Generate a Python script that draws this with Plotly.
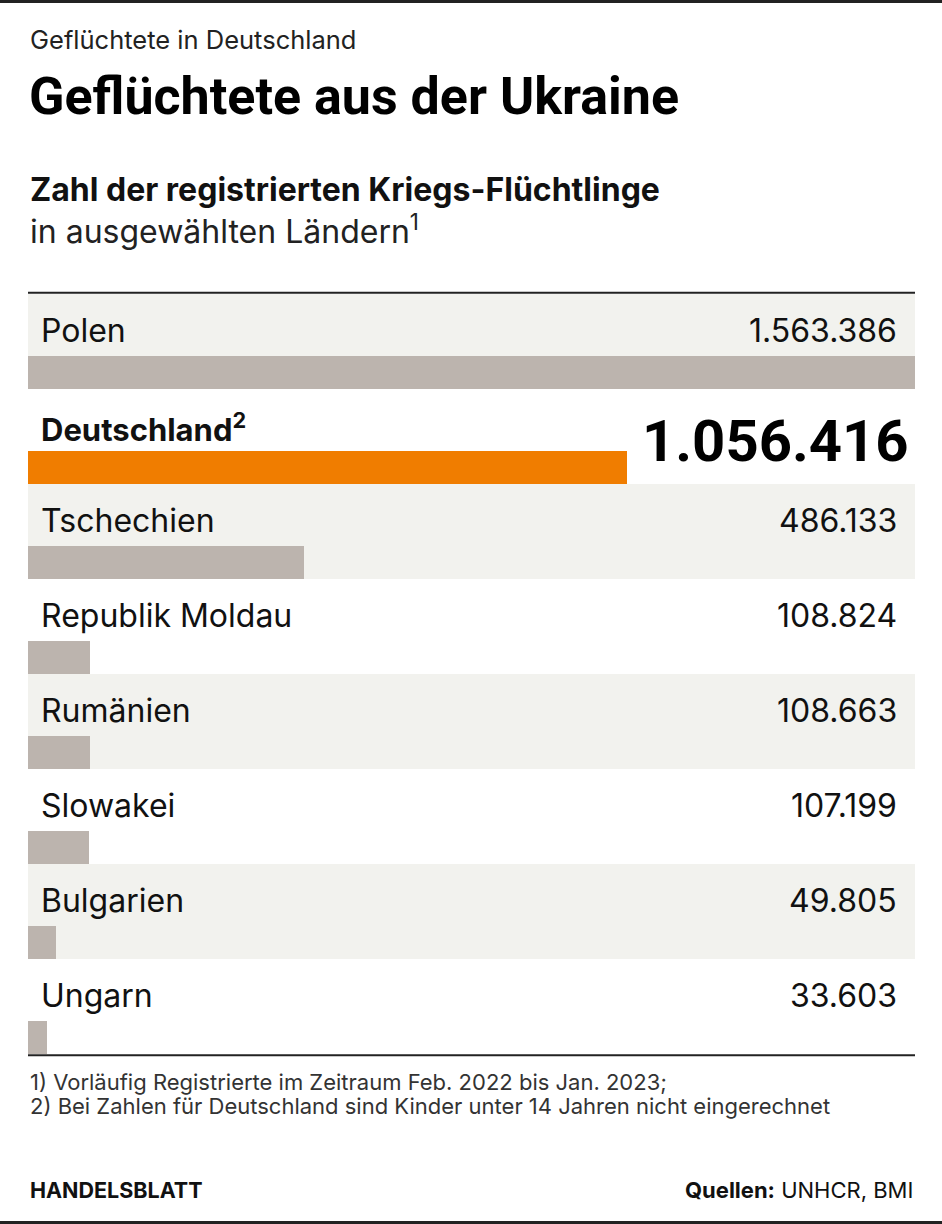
import plotly.graph_objects as go

countries = ["Polen", "Deutschland", "Tschechien", "Republik Moldau", "Rumänien",
             "Slowakei", "Bulgarien", "Ungarn"]
values = [1563386, 1056416, 486133, 108824, 108663, 107199, 49805, 33603]
value_labels = ["1.563.386", "1.056.416", "486.133", "108.824", "108.663",
                "107.199", "49.805", "33.603"]
highlight = "Deutschland"

W, H = 942, 1224
L, R, T, B = 28, 27, 294, 170
plot_h = H - T - B
plot_w = W - L - R

def px(x):
    return (x - L) / plot_w

def py(y):
    return (H - B - y) / plot_h

GRAY_BAR = "#bcb4ae"
ORANGE = "#f07d00"
ROW_BG = "#f2f2ee"
INK = "#111111"
FONT = "Inter, Roboto, sans-serif"
HEAVY = "Roboto, sans-serif"

n = len(countries)
bw = 33 / 95
bar_y = [i + 1 - bw / 2 for i in range(n)]
colors = [ORANGE if c == highlight else GRAY_BAR for c in countries]

fig = go.Figure()
fig.add_trace(go.Bar(
    x=values, y=bar_y, width=bw, orientation="h",
    marker=dict(color=colors, line=dict(width=0)),
    hoverinfo="skip", showlegend=False,
))

shapes = []
for i in range(n):
    if i % 2 == 0:
        shapes.append(dict(type="rect", xref="paper", yref="y", x0=0, x1=1,
                           y0=i, y1=i + 1, fillcolor=ROW_BG, line=dict(width=0),
                           layer="below"))
shapes.append(dict(type="line", xref="paper", yref="paper", x0=0, x1=1, y0=1.0015, y1=1.0015,
                   line=dict(color="#222", width=2)))
shapes.append(dict(type="line", xref="paper", yref="paper", x0=0, x1=1, y0=-0.0015, y1=-0.0015,
                   line=dict(color="#222", width=2)))
shapes.append(dict(type="line", xref="paper", yref="paper", x0=px(0), x1=px(W), y0=py(1.5), y1=py(1.5),
                   line=dict(color="#222", width=3)))
shapes.append(dict(type="line", xref="paper", yref="paper", x0=px(0), x1=px(W), y0=py(H - 1.5), y1=py(H - 1.5),
                   line=dict(color="#222", width=3)))

ann = []
for i, (c, v) in enumerate(zip(countries, value_labels)):
    if c == highlight:
        ann.append(dict(text="<b>Deutschland<sup>2</sup></b>", x=px(39), y=i + 0.40,
                        xref="paper", yref="y", xanchor="left", yanchor="middle",
                        showarrow=False, font=dict(family=FONT, size=31, color=INK)))
        ann.append(dict(text="<b>" + v + "</b>", x=px(911), y=i + 0.55,
                        xref="paper", yref="y", xanchor="right", yanchor="middle",
                        showarrow=False, font=dict(family=HEAVY, size=58, color="#000")))
    else:
        ann.append(dict(text=c, x=px(39), y=i + 0.38, xref="paper", yref="y",
                        xanchor="left", yanchor="middle", showarrow=False,
                        font=dict(family=FONT, size=32, color=INK)))
        ann.append(dict(text=v, x=px(899), y=i + 0.38, xref="paper", yref="y",
                        xanchor="right", yanchor="middle", showarrow=False,
                        font=dict(family=FONT, size=32, color=INK)))

def text(t, x, y, size, family=FONT, anchor="left", color=INK):
    ann.append(dict(text=t, x=px(x), y=py(y), xref="paper", yref="paper",
                    xanchor=anchor, yanchor="middle", showarrow=False,
                    font=dict(family=family, size=size, color=color)))

text("Geflüchtete in Deutschland", 28, 40, 25.5, color="#222")
text("<b>Geflüchtete aus der Ukraine</b>", 27, 97, 52, family=HEAVY, color="#000")
text("<b>Zahl der registrierten Kriegs-Flüchtlinge</b>", 28, 189, 32)
text("in ausgewählten Ländern<sup>1</sup>", 28, 230, 32, color="#222")
text("1) Vorläufig Registrierte im Zeitraum Feb. 2022 bis Jan. 2023;", 28, 1082, 22, color="#333")
text("2) Bei Zahlen für Deutschland sind Kinder unter 14 Jahren nicht eingerechnet", 28, 1106, 22, color="#333")
text("<b>HANDELSBLATT</b>", 28, 1190, 21.5, color="#111")
text("<b>Quellen:</b> UNHCR, BMI", 915, 1190, 22, anchor="right", color="#111")

fig.update_layout(
    width=W, height=H,
    margin=dict(l=L, r=R, t=T, b=B, pad=0),
    paper_bgcolor="white", plot_bgcolor="white",
    xaxis=dict(range=[0, max(values)], visible=False, fixedrange=True),
    yaxis=dict(range=[n, 0], visible=False, fixedrange=True),
    bargap=0,
    shapes=shapes,
    annotations=ann,
)

fig.write_html("out.html", config={"displayModeBar": False},
               post_script="document.body.style.margin='0px';")
